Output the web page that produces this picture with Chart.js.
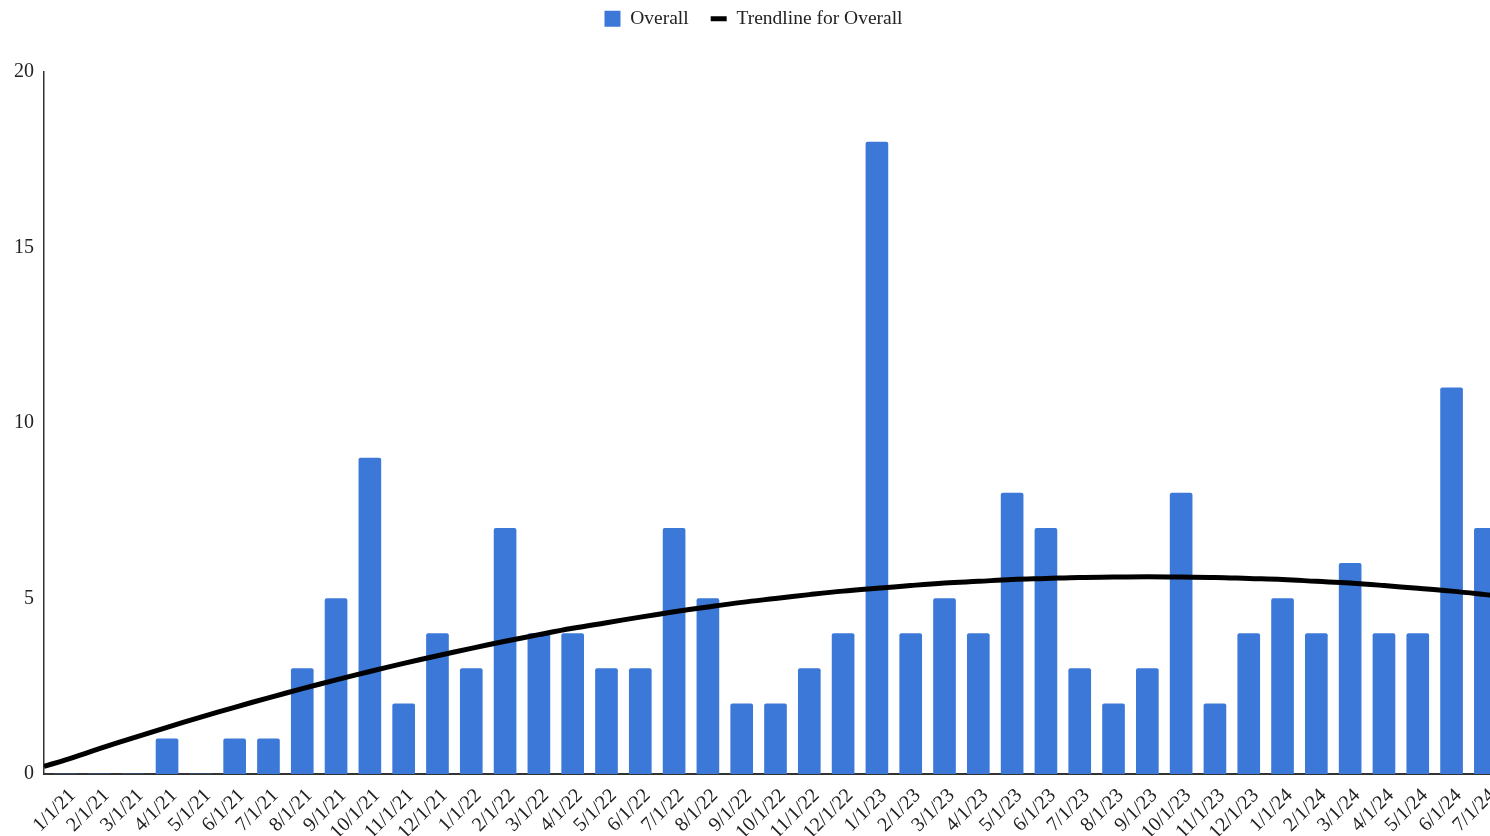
<!DOCTYPE html>
<html>
<head>
<meta charset="utf-8">
<title>Overall by month</title>
<script src="https://cdn.jsdelivr.net/npm/chart.js@4/dist/chart.umd.min.js"></script>
<style>
  html, body { margin: 0; padding: 0; background: #ffffff; width: 1490px; height: 836px; overflow: hidden; }
  #wrap { position: relative; width: 1510px; height: 860px; }
</style>
</head>
<body>
<div id="wrap"><canvas id="chart"></canvas></div>
<script>
// Monthly categories (first of each month)
const months = [
  '1/1/21','2/1/21','3/1/21','4/1/21','5/1/21','6/1/21','7/1/21','8/1/21','9/1/21','10/1/21','11/1/21','12/1/21',
  '1/1/22','2/1/22','3/1/22','4/1/22','5/1/22','6/1/22','7/1/22','8/1/22','9/1/22','10/1/22','11/1/22','12/1/22',
  '1/1/23','2/1/23','3/1/23','4/1/23','5/1/23','6/1/23','7/1/23','8/1/23','9/1/23','10/1/23','11/1/23','12/1/23',
  '1/1/24','2/1/24','3/1/24','4/1/24','5/1/24','6/1/24','7/1/24'
];

// Monthly counts
const overall = [
  0, 0, 0, 1, 0, 1, 1, 3, 5, 9, 2, 4,
  3, 7, 4, 4, 3, 3, 7, 5, 2, 2, 3, 4,
  18, 4, 5, 4, 8, 7, 3, 2, 3, 8, 2, 4,
  5, 4, 6, 4, 4, 11, 7
];

// Trendline value at each month
const trendline = [
  0.40, 0.72, 1.03, 1.33, 1.62, 1.90, 2.17, 2.43, 2.68, 2.92, 3.15, 3.37,
  3.58, 3.78, 3.97, 4.15, 4.31, 4.47, 4.62, 4.76, 4.89, 5.00, 5.11, 5.21,
  5.29, 5.37, 5.44, 5.49, 5.54, 5.57, 5.60, 5.61, 5.62, 5.61, 5.60, 5.57,
  5.54, 5.49, 5.44, 5.37, 5.29, 5.21, 5.11
];
// Trendline value where it meets the left and right edges of the plot
const trendEdges = [0.22, 5.04];

const yTicks = [0, 5, 10, 15, 20];

const X_MIN = -0.64;
const X_MAX = 42.64;
const BLUE = '#3c78d8';
const TEXT = '#222222';
const FONT = "'Liberation Serif', 'Times New Roman', serif";

const barPoints = overall.map((v, i) => ({ x: i, y: v }));
const trendPoints = [{ x: X_MIN, y: trendEdges[0] }]
  .concat(trendline.map((v, i) => ({ x: i, y: v })))
  .concat([{ x: X_MAX, y: trendEdges[1] }]);

// Fixed legend band height so the plot starts at the same place every time
const legendBand = {
  id: 'legendBand',
  beforeInit(chart) {
    const fit = chart.legend.fit;
    chart.legend.fit = function () {
      fit.call(this);
      this.height = 85;
    };
  }
};

new Chart(document.getElementById('chart'), {
  type: 'bar',
  data: {
    datasets: [
      {
        label: 'Overall',
        data: barPoints,
        backgroundColor: BLUE,
        borderWidth: 0,
        borderRadius: 2,
        borderSkipped: 'start',
        barThickness: 22,
        pointStyle: 'rect',
        order: 1
      },
      {
        type: 'line',
        label: 'Trendline for Overall',
        data: trendPoints,
        borderColor: '#000000',
        backgroundColor: '#000000',
        borderWidth: 5,
        pointRadius: 0,
        pointHoverRadius: 0,
        tension: 0.4,
        fill: false,
        pointStyle: 'line',
        order: 0
      }
    ]
  },
  options: {
    responsive: true,
    maintainAspectRatio: false,
    animation: false,
    layout: { padding: { top: -13, left: 0, right: 3, bottom: 0 } },
    plugins: {
      tooltip: { enabled: false },
      legend: {
        position: 'top',
        align: 'center',
        labels: {
          usePointStyle: true,
          pointStyleWidth: 16,
          boxHeight: 16,
          padding: 22,
          color: TEXT,
          font: { family: FONT, size: 19.5 },
          sort: (a, b) => a.datasetIndex - b.datasetIndex
        }
      }
    },
    scales: {
      x: {
        type: 'linear',
        offset: false,
        min: X_MIN,
        max: X_MAX,
        grid: { display: false, drawTicks: false },
        border: { display: true, color: '#333333', width: 2 },
        afterFit(scale) {
          scale.height = 86;
          // rotated labels may hang past the plot edges; keep the plot edges fixed
          scale.paddingLeft = 0;
          scale.paddingRight = 0;
        },
        ticks: {
          stepSize: 1,
          includeBounds: false,
          autoSkip: false,
          minRotation: 45,
          maxRotation: 45,
          padding: 10,
          labelOffset: 7,
          color: TEXT,
          font: { family: FONT, size: 20 },
          callback: (value) => (Number.isInteger(value) && months[value] !== undefined ? months[value] : '')
        }
      },
      y: {
        min: yTicks[0],
        max: yTicks[yTicks.length - 1],
        grid: { display: false, drawTicks: false },
        border: { display: true, color: '#333333', width: 1.5 },
        afterFit(scale) { scale.width = 44; },
        afterBuildTicks(scale) { scale.ticks = yTicks.map(v => ({ value: v })); },
        ticks: {
          padding: 10,
          color: TEXT,
          font: { family: FONT, size: 20 }
        }
      }
    }
  },
  plugins: [legendBand]
});
</script>
</body>
</html>
